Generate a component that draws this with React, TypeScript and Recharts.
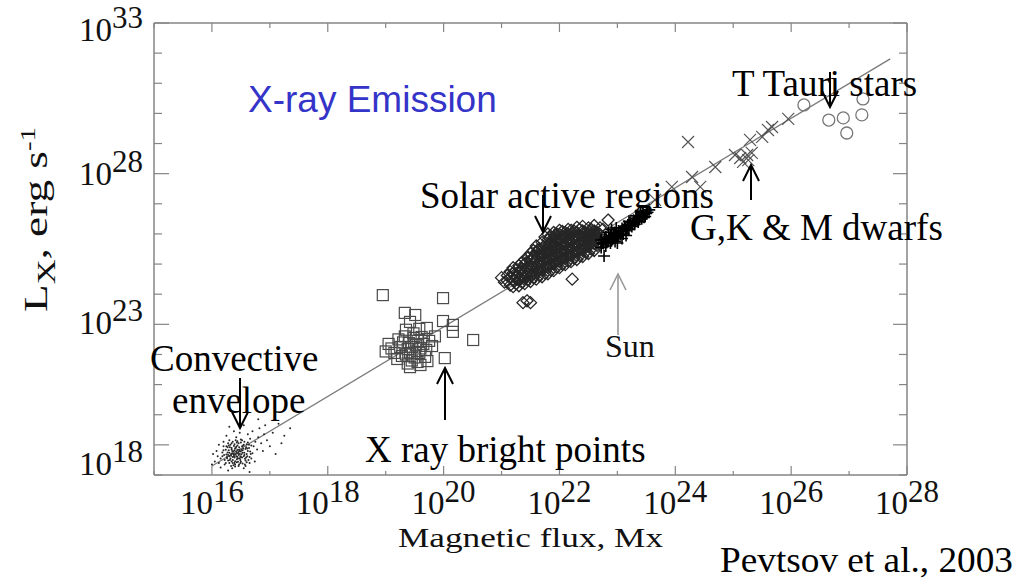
import React from 'react';
import { ScatterChart, Scatter, XAxis, YAxis, ReferenceLine } from 'recharts';

// ---- axis ticks (log10 exponents) ----
const xTickExps = [15, 16, 17, 18, 19, 20, 21, 22, 23, 24, 25, 26, 27, 28];
const xMajorExps = [16, 18, 20, 22, 24, 26, 28];
const yTickExps = [18, 19, 20, 21, 22, 23, 24, 25, 26, 27, 28, 29, 30, 31, 32, 33];
const yMajorExps = [19, 23, 28, 33];
const yLabelExps = [18, 23, 28, 33];
const yLabelDy = [0, 10, 11, 18];

// ---- data: [log10 magnetic flux (Mx), log10 Lx (erg/s)] ----
const convectiveEnvelope: [number, number][] = [
  [16.43, 18.73], [16.4, 18.7], [16.46, 18.76], [16.38, 18.66], [16.48, 18.8], [16.35, 18.72], [16.51, 18.69], [16.42, 18.62], [16.44, 18.84], [16.37, 18.78],
  [16.5, 18.6], [16.33, 18.64], [16.53, 18.82], [16.41, 18.9], [16.45, 18.55], [16.3, 18.74], [16.56, 18.74], [16.39, 18.58], [16.47, 18.92], [16.34, 18.85],
  [16.55, 18.62], [16.28, 18.66], [16.58, 18.86], [16.36, 18.5], [16.49, 18.5], [16.31, 18.92], [16.6, 18.7], [16.26, 18.56], [16.44, 18.98], [16.52, 18.95],
  [16.4, 18.46], [16.57, 18.54], [16.29, 18.82], [16.62, 18.8], [16.34, 18.45], [16.46, 18.66], [16.42, 18.78], [16.39, 18.82], [16.48, 18.7], [16.36, 18.6],
  [16.54, 18.88], [16.32, 18.55], [16.45, 18.44], [16.27, 18.75], [16.59, 18.92], [16.38, 18.96], [16.5, 18.78], [16.43, 18.52], [16.35, 18.8], [16.52, 18.58],
  [16.41, 18.68], [16.47, 18.84], [16.33, 18.7], [16.56, 18.66], [16.3, 18.62], [16.44, 18.6], [16.4, 18.88], [16.49, 18.62], [16.37, 18.7], [16.53, 18.74],
  [16.25, 18.68], [16.61, 18.62], [16.43, 18.42], [16.39, 19.02], [16.55, 19.0], [16.28, 18.48], [16.46, 19.05], [16.32, 19.0], [16.58, 18.48], [16.64, 18.9],
  [16.24, 18.84], [16.5, 18.44], [16.36, 18.4], [16.6, 19.02], [16.42, 18.94], [16.48, 18.56], [16.34, 18.9], [16.45, 18.72], [16.38, 18.62], [16.51, 18.84],
  [16.22, 18.5], [16.25, 18.95], [16.28, 19.05], [16.3, 18.4], [16.33, 18.3], [16.36, 19.1], [16.4, 18.35], [16.44, 19.12], [16.47, 18.35], [16.5, 19.08],
  [16.53, 18.38], [16.56, 19.1], [16.6, 18.42], [16.62, 19.08], [16.65, 18.6], [16.66, 18.78], [16.68, 18.98], [16.21, 18.66], [16.2, 18.82], [16.24, 18.4],
  [16.27, 18.92], [16.31, 18.5], [16.34, 19.05], [16.37, 18.32], [16.41, 19.15], [16.46, 18.3], [16.52, 19.15], [16.57, 18.35], [16.63, 18.5], [16.67, 18.7],
  [16.18, 18.62], [16.26, 18.6], [16.29, 18.98], [16.39, 18.4], [16.43, 19.08], [16.49, 18.4], [16.54, 18.98], [16.59, 18.58], [16.61, 18.88], [16.64, 19.0],
  [16.15, 18.55], [16.18, 18.75], [16.12, 18.4], [16.2, 18.95], [16.7, 18.72], [16.72, 18.95], [16.68, 18.55], [16.75, 19.1], [16.22, 18.35], [16.65, 18.4],
  [16.3, 19.15], [16.5, 19.18], [16.4, 18.28], [16.58, 18.3], [16.1, 18.62], [16.78, 18.85], [16.2, 19.1], [16.66, 19.2], [16.08, 18.8], [16.8, 19.25],
  [16.35, 18.22], [16.55, 18.22], [16.05, 18.45], [16.85, 19.05], [16.42, 19.25], [16.25, 19.3], [16.62, 19.35], [16.15, 18.25], [16.74, 18.45], [16.9, 19.35],
  [16.02, 18.7], [16.28, 18.15], [16.88, 18.8], [16.48, 19.4], [16.7, 19.45], [16.12, 19.0], [16.95, 19.15], [16.38, 19.45], [16.82, 19.55], [16.0, 18.35],
  [17.05, 19.4], [17.15, 19.7], [17.25, 19.3], [16.92, 19.65], [17.35, 19.55], [16.55, 19.65], [17.0, 18.95], [16.8, 19.85], [17.2, 19.05], [16.3, 19.6],
  [17.1, 18.7], [16.65, 18.1],
];

const xRayBrightPoints: [number, number][] = [
  [18.95, 23.97], [19.99, 23.87], [19.33, 23.38], [19.51, 23.31], [19.42, 23.08], [19.99, 23.11], [20.16, 22.98], [20.16, 22.75], [20.51, 22.48], [20.02, 21.88], [19.71, 22.88],
  [19.45, 22.25], [19.38, 22.18], [19.52, 22.32], [19.3, 22.4], [19.6, 22.2], [19.42, 22.05], [19.55, 22.45], [19.35, 22.0], [19.65, 22.35], [19.48, 22.55],
  [19.25, 22.25], [19.58, 22.05], [19.4, 22.38], [19.7, 22.15], [19.33, 22.6], [19.5, 21.9], [19.62, 22.58], [19.28, 21.95], [19.45, 21.8], [19.55, 21.75],
  [19.1, 22.2], [19.05, 22.35], [19.15, 22.05], [19.22, 22.5], [19.75, 22.45], [19.8, 22.28], [19.68, 21.92], [19.38, 21.7], [19.6, 21.65], [19.48, 22.7],
  [19.2, 21.85], [19.85, 22.6], [19.35, 22.82], [19.58, 22.85], [19.0, 22.1], [19.42, 21.58], [19.72, 21.78],
];

const solarActiveRegions: [number, number][] = [
  [21.1, 24.45], [21.1, 24.62], [21.15, 24.3], [21.15, 24.55], [21.15, 24.75], [21.2, 24.25], [21.2, 24.48], [21.2, 24.7], [21.2, 24.88],
  [21.25, 24.35], [21.25, 24.58], [21.25, 24.8], [21.3, 24.28], [21.3, 24.5], [21.3, 24.72], [21.3, 24.95],
  [21.35, 24.4], [21.35, 24.62], [21.35, 24.85], [21.35, 25.05], [21.4, 24.35], [21.4, 24.55], [21.4, 24.78], [21.4, 25.0], [21.4, 25.15],
  [21.45, 24.48], [21.45, 24.7], [21.45, 24.92], [21.45, 25.2], [21.5, 24.42], [21.5, 24.62], [21.5, 24.85], [21.5, 25.08], [21.5, 25.35],
  [21.55, 24.55], [21.55, 24.78], [21.55, 25.0], [21.55, 25.22], [21.55, 25.45], [21.6, 24.5], [21.6, 24.7], [21.6, 24.92], [21.6, 25.15], [21.6, 25.38], [21.6, 25.6],
  [21.65, 24.62], [21.65, 24.85], [21.65, 25.08], [21.65, 25.3], [21.65, 25.52], [21.7, 24.58], [21.7, 24.8], [21.7, 25.02], [21.7, 25.25], [21.7, 25.48], [21.7, 25.72],
  [21.75, 24.7], [21.75, 24.92], [21.75, 25.15], [21.75, 25.38], [21.75, 25.62], [21.75, 25.9],
  [21.8, 24.68], [21.8, 24.88], [21.8, 25.1], [21.8, 25.32], [21.8, 25.55], [21.8, 25.8], [21.8, 26.0],
  [21.85, 24.8], [21.85, 25.02], [21.85, 25.25], [21.85, 25.48], [21.85, 25.7], [21.85, 25.92],
  [21.9, 24.78], [21.9, 25.0], [21.9, 25.2], [21.9, 25.42], [21.9, 25.65], [21.9, 25.88], [21.9, 26.05],
  [21.95, 24.9], [21.95, 25.12], [21.95, 25.35], [21.95, 25.58], [21.95, 25.8], [21.95, 26.0],
  [22.0, 24.88], [22.0, 25.08], [22.0, 25.3], [22.0, 25.52], [22.0, 25.75], [22.0, 25.98], [22.0, 26.12],
  [22.05, 25.0], [22.05, 25.22], [22.05, 25.45], [22.05, 25.68], [22.05, 25.9], [22.05, 26.08],
  [22.1, 24.98], [22.1, 25.18], [22.1, 25.4], [22.1, 25.62], [22.1, 25.85], [22.1, 26.05],
  [22.15, 25.1], [22.15, 25.32], [22.15, 25.55], [22.15, 25.78], [22.15, 26.0], [22.15, 26.15],
  [22.2, 25.08], [22.2, 25.28], [22.2, 25.5], [22.2, 25.72], [22.2, 25.95], [22.2, 26.12],
  [22.25, 25.2], [22.25, 25.42], [22.25, 25.65], [22.25, 25.88], [22.25, 26.1],
  [22.3, 25.15], [22.3, 25.38], [22.3, 25.6], [22.3, 25.82], [22.3, 26.05], [22.3, 26.22],
  [22.35, 25.28], [22.35, 25.5], [22.35, 25.72], [22.35, 25.95], [22.35, 26.15],
  [22.4, 25.25], [22.4, 25.45], [22.4, 25.68], [22.4, 25.9], [22.4, 26.1], [22.4, 26.25],
  [22.45, 25.4], [22.45, 25.62], [22.45, 25.85], [22.45, 26.05], [22.5, 25.35], [22.5, 25.58], [22.5, 25.8], [22.5, 26.0], [22.5, 26.2],
  [22.55, 25.5], [22.55, 25.72], [22.55, 25.95], [22.55, 26.15], [22.6, 25.45], [22.6, 25.68], [22.6, 25.9], [22.6, 26.1], [22.6, 26.28],
  [22.65, 25.62], [22.65, 25.85], [22.65, 26.05], [22.7, 25.75], [22.7, 25.98], [22.7, 26.2], [22.75, 25.9], [22.75, 26.15],
  [21.225, 24.45], [21.225, 24.65], [21.325, 24.52], [21.325, 24.78], [21.425, 24.6], [21.425, 24.85], [21.425, 25.05],
  [21.525, 24.65], [21.525, 24.92], [21.525, 25.18], [21.625, 24.75], [21.625, 25.0], [21.625, 25.25], [21.625, 25.45],
  [21.725, 24.85], [21.725, 25.1], [21.725, 25.35], [21.725, 25.58], [21.825, 24.95], [21.825, 25.2], [21.825, 25.45], [21.825, 25.68], [21.825, 25.88],
  [21.925, 25.05], [21.925, 25.3], [21.925, 25.55], [21.925, 25.75], [21.925, 25.95], [22.025, 25.15], [22.025, 25.4], [22.025, 25.62], [22.025, 25.85],
  [22.125, 25.25], [22.125, 25.48], [22.125, 25.7], [22.125, 25.92], [22.225, 25.35], [22.225, 25.58], [22.225, 25.8], [22.225, 26.02],
  [22.325, 25.45], [22.325, 25.68], [22.325, 25.9], [22.425, 25.55], [22.425, 25.78], [22.425, 25.98], [22.525, 25.65], [22.525, 25.88], [22.525, 26.08],
  [22.625, 25.78], [22.625, 25.98],
  [22.84, 26.46], [22.22, 24.5], [21.37, 23.72], [21.5, 23.72], [21.44, 23.78], [21.05, 24.4], [21.0, 24.55],
];

const sun: [number, number][] = [
  [22.72, 25.55], [22.72, 25.8], [22.76, 25.68], [22.8, 25.6], [22.8, 25.9], [22.84, 25.75], [22.88, 25.7], [22.88, 25.95], [22.92, 25.82], [22.95, 26.05],
  [22.96, 25.75], [23.0, 25.9], [23.02, 26.1], [23.05, 25.98], [23.08, 26.18], [23.1, 26.0], [23.12, 26.25], [23.15, 26.12], [23.18, 26.3], [23.2, 26.15],
  [23.22, 26.38], [23.25, 26.25], [23.28, 26.45], [23.3, 26.32], [23.33, 26.52], [23.36, 26.4], [23.38, 26.58], [23.42, 26.5], [23.45, 26.65], [23.48, 26.58],
  [23.52, 26.72], [23.55, 26.8], [22.9, 26.15], [23.0, 25.7], [22.77, 25.27], [22.85, 26.05], [23.15, 25.95], [23.4, 26.75],
  [22.74, 25.7], [22.78, 25.82], [22.82, 25.72], [22.86, 25.85], [22.9, 25.78], [22.94, 25.92], [22.98, 26.0], [23.02, 25.95], [23.06, 26.08], [23.1, 26.12],
  [23.14, 26.2], [23.18, 26.18], [23.22, 26.28], [23.26, 26.35], [23.3, 26.42], [23.34, 26.45], [23.38, 26.48], [23.42, 26.6], [23.46, 26.55], [23.5, 26.68],
  [23.44, 26.72], [23.32, 26.6], [23.2, 26.42], [23.08, 25.85], [22.98, 26.2],
];

const gkmDwarfs: [number, number][] = [
  [24.22, 29.05], [24.29, 27.89], [23.94, 27.56], [24.43, 27.56], [24.69, 28.22], [25.03, 28.62], [25.12, 28.52], [25.24, 28.62],
  [25.17, 28.39], [25.26, 28.45], [25.32, 28.69], [25.29, 29.12], [25.5, 29.22], [25.6, 29.45], [25.67, 29.55], [25.95, 29.82], [23.65, 27.13],
];

const tTauriStars: [number, number][] = [
  [26.22, 30.28], [26.65, 29.78], [26.9, 29.85], [26.96, 29.35], [27.22, 29.95], [27.24, 30.48],
];

const fitLine: [number, number][] = [[16.0, 18.3], [27.71, 31.81]];

// ---- helpers ----
const toPoints = (arr: [number, number][]) => arr.map(([a, b]) => ({ x: Math.pow(10, a), y: Math.pow(10, b) }));
const pow = (e: number) => Math.pow(10, e);
const expOf = (v: number) => Math.round(Math.log10(v));

const SERIF = '"Liberation Serif", "Times New Roman", serif';
const SANS = '"Liberation Sans", Arial, sans-serif';
const FRAME = '#858585';

const BottomTick = (props: any) => {
  const { x, y, payload } = props;
  const e = expOf(payload.value);
  const major = xMajorExps.includes(e);
  return (
    <g>
      <line x1={x} x2={x} y1={y} y2={y - (major ? 9 : 4)} stroke={FRAME} strokeWidth={1.2} />
      {major && (
        <text x={x} y={y + 39} textAnchor="middle" fontFamily={SERIF} fontSize={33} fill="#111">
          10<tspan dy={-12} fontSize={31}>{e}</tspan>
        </text>
      )}
    </g>
  );
};

const TopTick = (props: any) => {
  const { x, y, payload } = props;
  const e = expOf(payload.value);
  const major = xMajorExps.includes(e);
  return <line x1={x} x2={x} y1={y} y2={y + (major ? 9 : 5)} stroke={FRAME} strokeWidth={1.2} />;
};

const LeftTick = (props: any) => {
  const { x, y, payload } = props;
  const e = expOf(payload.value);
  const major = yMajorExps.includes(e);
  const li = yLabelExps.indexOf(e);
  return (
    <g>
      <line x1={x} x2={x + (major ? 15 : 8)} y1={y} y2={y} stroke={FRAME} strokeWidth={1.2} />
      {li >= 0 && (
        <text x={x - 11} y={y + yLabelDy[li]} textAnchor="end" fontFamily={SERIF} fontSize={33} fill="#111">
          10<tspan dy={-13} fontSize={31}>{e}</tspan>
        </text>
      )}
    </g>
  );
};

const RightTick = (props: any) => {
  const { x, y, payload } = props;
  const e = expOf(payload.value);
  const major = yMajorExps.includes(e);
  return <line x1={x} x2={x - (major ? 14 : 8)} y1={y} y2={y} stroke={FRAME} strokeWidth={1.2} />;
};

const DotShape = (p: any) => <circle cx={p.cx} cy={p.cy} r={1} fill="#262626" />;
const SquareShape = (p: any) => (
  <rect x={p.cx - 5.5} y={p.cy - 5.5} width={11} height={11} fill="none" stroke="#4a4a4a" strokeWidth={1.2} />
);
const DiamondShape = (p: any) => (
  <polygon
    points={`${p.cx},${p.cy - 6} ${p.cx + 6},${p.cy} ${p.cx},${p.cy + 6} ${p.cx - 6},${p.cy}`}
    fill="none"
    stroke="#262626"
    strokeWidth={1.3}
  />
);
const PlusShape = (p: any) => (
  <path d={`M${p.cx - 6},${p.cy}H${p.cx + 6}M${p.cx},${p.cy - 6}V${p.cy + 6}`} stroke="#000" strokeWidth={1.6} />
);
const CrossShape = (p: any) => (
  <path
    d={`M${p.cx - 6},${p.cy - 6}L${p.cx + 6},${p.cy + 6}M${p.cx - 6},${p.cy + 6}L${p.cx + 6},${p.cy - 6}`}
    stroke="#555"
    strokeWidth={1.2}
  />
);
const CircleShape = (p: any) => <circle cx={p.cx} cy={p.cy} r={6} fill="none" stroke="#777" strokeWidth={1.3} />;

const Arrow = ({ x, from, to, color = '#000', w = 2 }: { x: number; from: number; to: number; color?: string; w?: number }) => {
  const dir = to > from ? -1 : 1;
  return (
    <g stroke={color} strokeWidth={w} fill="none">
      <line x1={x} y1={from} x2={x} y2={to} />
      <polyline points={`${x - 8},${to + dir * 16} ${x},${to} ${x + 8},${to + dir * 16}`} />
    </g>
  );
};

export default function App() {
  const fit = toPoints(fitLine);
  return (
    <div style={{ position: 'absolute', left: 0, top: 0, width: 1028, height: 581, background: '#fff' }}>
      <ScatterChart width={1028} height={581} margin={{ top: 22, right: 120, bottom: 46, left: 54 }}>
        <XAxis
          xAxisId="b"
          dataKey="x"
          type="number"
          scale="log"
          domain={[pow(15), pow(28)]}
          allowDataOverflow
          ticks={xTickExps.map(pow)}
          interval={0}
          height={60}
          tickSize={0}
          tickMargin={0}
          axisLine={{ stroke: FRAME, strokeWidth: 1.5 }}
          tickLine={false}
          tick={<BottomTick />}
        />
        <XAxis
          xAxisId="t"
          orientation="top"
          dataKey="x"
          type="number"
          scale="log"
          domain={[pow(15), pow(28)]}
          allowDataOverflow
          ticks={xTickExps.map(pow)}
          interval={0}
          height={1}
          tickSize={0}
          tickMargin={0}
          axisLine={{ stroke: FRAME, strokeWidth: 1.5 }}
          tickLine={false}
          tick={<TopTick />}
        />
        <YAxis
          yAxisId="l"
          dataKey="y"
          type="number"
          scale="log"
          domain={[pow(18), pow(33)]}
          allowDataOverflow
          ticks={yTickExps.map(pow)}
          interval={0}
          width={100}
          tickSize={0}
          tickMargin={0}
          axisLine={{ stroke: FRAME, strokeWidth: 1.5 }}
          tickLine={false}
          tick={<LeftTick />}
        />
        <YAxis
          yAxisId="r"
          orientation="right"
          dataKey="y"
          type="number"
          scale="log"
          domain={[pow(18), pow(33)]}
          allowDataOverflow
          ticks={yTickExps.map(pow)}
          interval={0}
          width={1}
          tickSize={0}
          tickMargin={0}
          axisLine={{ stroke: FRAME, strokeWidth: 1.5 }}
          tickLine={false}
          tick={<RightTick />}
        />
        <ReferenceLine
          xAxisId="b"
          yAxisId="l"
          segment={[fit[0], fit[1]]}
          stroke="#7a7a7a"
          strokeWidth={1.3}
          ifOverflow="visible"
        />
        <Scatter xAxisId="b" yAxisId="l" data={toPoints(convectiveEnvelope)} shape={DotShape} isAnimationActive={false} />
        <Scatter xAxisId="b" yAxisId="l" data={toPoints(xRayBrightPoints)} shape={SquareShape} isAnimationActive={false} />
        <Scatter xAxisId="b" yAxisId="l" data={toPoints(solarActiveRegions)} shape={DiamondShape} isAnimationActive={false} />
        <Scatter xAxisId="b" yAxisId="l" data={toPoints(sun)} shape={PlusShape} isAnimationActive={false} />
        <Scatter xAxisId="b" yAxisId="l" data={toPoints(gkmDwarfs)} shape={CrossShape} isAnimationActive={false} />
        <Scatter xAxisId="b" yAxisId="l" data={toPoints(tTauriStars)} shape={CircleShape} isAnimationActive={false} />
      </ScatterChart>
      <svg width={1028} height={581} style={{ position: 'absolute', left: 0, top: 0, pointerEvents: 'none' }}>
        <text x={248} y={112} fontFamily={SANS} fontSize={37} fill="#3434c8">X-ray Emission</text>
        <text x={732} y={96} fontFamily={SERIF} fontSize={37} fill="#000">T Tauri stars</text>
        <text x={420} y={208} fontFamily={SERIF} fontSize={37} fill="#000">Solar active regions</text>
        <text x={690} y={240} fontFamily={SERIF} fontSize={37} fill="#000">G,K &amp; M dwarfs</text>
        <text x={150} y={371} fontFamily={SERIF} fontSize={37} fill="#000">Convective</text>
        <text x={172} y={413} fontFamily={SERIF} fontSize={37} fill="#000">envelope</text>
        <text x={365} y={462} fontFamily={SERIF} fontSize={37} fill="#000">X ray bright points</text>
        <text x={605} y={357} fontFamily={SERIF} fontSize={32} fill="#111">Sun</text>
        <text x={398} y={547} fontFamily={SERIF} fontSize={28} fill="#111" textLength={265} lengthAdjust="spacingAndGlyphs">Magnetic flux, Mx</text>
        <text x={720} y={572} fontFamily={SERIF} fontSize={35} fill="#000" textLength={293} lengthAdjust="spacingAndGlyphs">Pevtsov et al., 2003</text>
        <text transform="translate(47,312) rotate(-90)" fontFamily={SERIF} fontSize={33} fill="#111" textLength={185} lengthAdjust="spacingAndGlyphs">
          L<tspan dy={8} fontSize={25}>X</tspan>
          <tspan dy={-8}>, erg s</tspan>
          <tspan dy={-12} fontSize={21}>-1</tspan>
        </text>
        <Arrow x={240} from={378} to={428} />
        <Arrow x={543} from={195} to={232} />
        <Arrow x={751} from={200} to={165} />
        <Arrow x={830} from={72} to={107} />
        <Arrow x={445} from={420} to={368} />
        <Arrow x={618} from={335} to={274} color="#999" w={1.6} />
      </svg>
    </div>
  );
}
